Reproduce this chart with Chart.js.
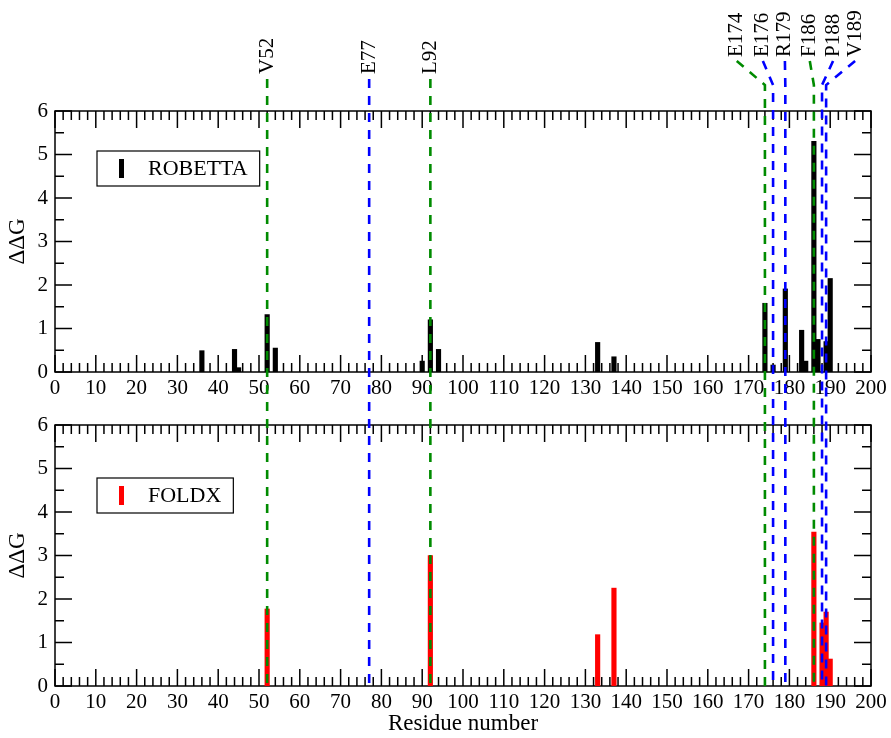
<!DOCTYPE html>
<html>
<head>
<meta charset="utf-8">
<script src="https://cdn.jsdelivr.net/npm/chart.js@4.4.0/dist/chart.umd.min.js"></script>
<style>
  body { margin: 0; background: #fff; }
  #wrap { position: relative; width: 891px; height: 738px; }
  canvas { position: absolute; left: 0; }
  #topPanel { top: 0; }
  #botPanel { top: 400px; }
</style>
</head>
<body>
<div id="wrap">
  <canvas id="topPanel" width="891" height="400"></canvas>
  <canvas id="botPanel" width="891" height="338"></canvas>
</div>
<script>
// ROBETTA ddG per residue (top panel)
const robettaRes = [36, 44, 45, 52, 54, 90, 92, 94, 133, 137, 174, 176, 179, 183, 184, 186, 187, 189, 190];
const robettaDDG = [0.49, 0.52, 0.1, 1.32, 0.55, 0.25, 1.2, 0.52, 0.68, 0.35, 1.58, 0.16, 1.91, 0.96, 0.25, 5.3, 0.75, 0.7, 2.15];
// FOLDX ddG per residue (bottom panel)
const foldxRes = [52, 92, 133, 137, 186, 188, 189, 190];
const foldxDDG = [1.77, 3.0, 1.18, 2.25, 3.54, 1.45, 1.7, 0.62];
// marked residues (dashed lines)
const markRes = [52, 77, 92, 174, 176, 179, 186, 188, 189];
const markLabels = ['V52', 'E77', 'L92', 'E174', 'E176', 'R179', 'F186', 'P188', 'V189'];
const markColor = ['green', 'blue', 'green', 'green', 'blue', 'blue', 'green', 'blue', 'blue'];
// where the label sits along the residue axis (crowded ones are spread out)
const markLabelAt = [52, 77, 92, 167.1, 173.5, 178.9, 185, 190.7, 196.1];

const FONT = "'Liberation Serif', 'Times New Roman', serif";
const COLORS = { green: '#008b00', blue: '#0000ff' };
const DASH = [9, 8];
const TOP_H = 400;

function toPoints(xs, ys) {
  return xs.map((x, i) => ({ x: x, y: ys[i] }));
}

// frame with inward ticks on all four sides (major + minor)
const framePlugin = {
  id: 'frame',
  beforeDatasetsDraw(chart) {
    const { ctx, chartArea: a, scales: { x, y } } = chart;
    ctx.save();
    ctx.strokeStyle = '#000';
    ctx.lineWidth = 1.5;
    ctx.beginPath();
    for (let v = 0; v <= 200; v += 2) {
      const px = x.getPixelForValue(v);
      const len = v % 10 === 0 ? 17 : 9;
      ctx.moveTo(px, a.bottom); ctx.lineTo(px, a.bottom - len);
      ctx.moveTo(px, a.top); ctx.lineTo(px, a.top + len);
    }
    for (let v = 0; v <= 6; v += 0.5) {
      const py = y.getPixelForValue(v);
      const len = v % 1 === 0 ? 17 : 9;
      ctx.moveTo(a.left, py); ctx.lineTo(a.left + len, py);
      ctx.moveTo(a.right, py); ctx.lineTo(a.right - len, py);
    }
    ctx.stroke();
    ctx.strokeRect(a.left, a.top, a.right - a.left, a.bottom - a.top);
    ctx.restore();
  }
};

// length of the dashed path already drawn in the top panel (to continue dash phase)
function topPathLength(i, x) {
  const xl = x.getPixelForValue(markRes[i]);
  if (markLabelAt[i] !== markRes[i]) {
    const xt = x.getPixelForValue(markLabelAt[i]);
    return Math.hypot(xl - xt, 24) + (TOP_H - 85);
  }
  return TOP_H - 79;
}

const marksPlugin = {
  id: 'marks',
  afterDatasetsDraw(chart, args, opts) {
    const { ctx, chartArea: a, scales: { x } } = chart;
    ctx.save();
    ctx.lineWidth = 2.6;
    ctx.setLineDash(DASH);
    markRes.forEach((r, i) => {
      const xl = x.getPixelForValue(r);
      ctx.strokeStyle = COLORS[markColor[i]];
      ctx.beginPath();
      if (opts.top) {
        ctx.lineDashOffset = 0;
        if (markLabelAt[i] !== r) {
          ctx.moveTo(x.getPixelForValue(markLabelAt[i]), 61);
          ctx.lineTo(xl, 85);
        } else {
          ctx.moveTo(xl, 79);
        }
        ctx.lineTo(xl, chart.height);
      } else {
        ctx.lineDashOffset = topPathLength(i, x);
        ctx.moveTo(xl, 0);
        ctx.lineTo(xl, a.bottom);
      }
      ctx.stroke();
    });
    ctx.setLineDash([]);
    if (opts.top) {
      ctx.fillStyle = '#000';
      ctx.font = '21px ' + FONT;
      ctx.textAlign = 'left';
      ctx.textBaseline = 'middle';
      markRes.forEach((r, i) => {
        const grouped = markLabelAt[i] !== r;
        ctx.save();
        ctx.translate(x.getPixelForValue(markLabelAt[i]), grouped ? 57 : 74);
        ctx.rotate(-Math.PI / 2);
        ctx.fillText(markLabels[i], 0, 0);
        ctx.restore();
      });
    }
    ctx.restore();
  }
};

// boxed legend in the upper left of each panel
const boxLegendPlugin = {
  id: 'boxLegend',
  afterDraw(chart, args, opts) {
    const { ctx, chartArea: a } = chart;
    const ds = chart.data.datasets[0];
    const left = a.left + 42, top = a.top + opts.offsetY, h = 35;
    ctx.save();
    ctx.font = '22px ' + FONT;
    const w = 51 + ctx.measureText(ds.label).width + 12;
    ctx.fillStyle = '#fff';
    ctx.fillRect(left, top, w, h);
    ctx.strokeStyle = '#000';
    ctx.lineWidth = 1.2;
    ctx.strokeRect(left, top, w, h);
    ctx.fillStyle = ds.backgroundColor;
    ctx.fillRect(left + 22, top + 8, 5, 19);
    ctx.fillStyle = '#000';
    ctx.textBaseline = 'middle';
    ctx.fillText(ds.label, left + 51, top + h / 2 + 1);
    ctx.restore();
  }
};

function panelOptions(padTop, xHeight, showXTitle, isTop, legendY) {
  return {
    responsive: false,
    animation: false,
    layout: { padding: { left: 0, right: 20, top: padTop, bottom: 0 } },
    plugins: {
      legend: { display: false },
      tooltip: { enabled: false },
      marks: { top: isTop },
      boxLegend: { offsetY: legendY }
    },
    scales: {
      x: {
        type: 'linear', min: 0, max: 200, offset: false,
        grid: { display: false, drawTicks: false, offset: false },
        border: { display: false },
        ticks: { stepSize: 10, autoSkip: false, maxRotation: 0, padding: 4, color: '#000',
                 font: { family: FONT, size: 21 } },
        title: { display: showXTitle, text: 'Residue number', color: '#000', padding: 0,
                 font: { family: FONT, size: 23 } },
        afterFit: s => { s.height = xHeight; }
      },
      y: {
        min: 0, max: 6,
        grid: { display: false, drawTicks: false },
        border: { display: false },
        ticks: { stepSize: 1, padding: 7, color: '#000', font: { family: FONT, size: 21 } },
        title: { display: true, text: 'ΔΔG', color: '#000', padding: { top: 4 },
                 font: { family: FONT, size: 23 } },
        afterFit: s => { s.width = 55; }
      }
    }
  };
}

new Chart(document.getElementById('topPanel').getContext('2d'), {
  type: 'bar',
  data: { datasets: [{ label: 'ROBETTA', data: toPoints(robettaRes, robettaDDG),
                       backgroundColor: '#000', barThickness: 4.5, borderWidth: 0 }] },
  options: panelOptions(111, 28, false, true, 40),
  plugins: [framePlugin, marksPlugin, boxLegendPlugin]
});

new Chart(document.getElementById('botPanel').getContext('2d'), {
  type: 'bar',
  data: { datasets: [{ label: 'FOLDX', data: toPoints(foldxRes, foldxDDG),
                       backgroundColor: '#ff0000', barThickness: 4.5, borderWidth: 0 }] },
  options: panelOptions(25, 52, true, false, 53),
  plugins: [framePlugin, marksPlugin, boxLegendPlugin]
});
</script>
</body>
</html>
